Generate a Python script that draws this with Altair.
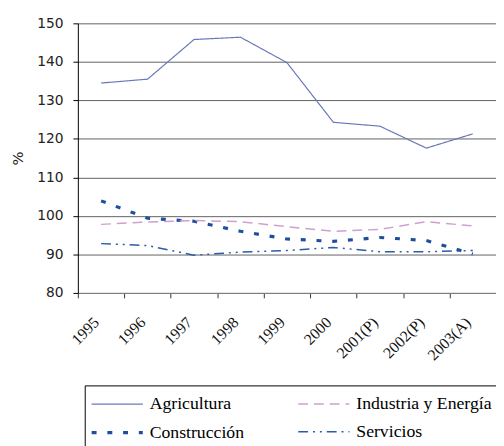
import altair as alt
import pandas as pd

years = ["1995", "1996", "1997", "1998", "1999", "2000", "2001(P)", "2002(P)", "2003(A)"]
series = ["Agricultura", "Construcción", "Industria y Energía", "Servicios"]
agricultura = [134.5, 135.5, 145.8, 146.4, 139.8, 124.3, 123.3, 117.6, 121.3]
construccion = [103.9, 99.4, 98.6, 96.0, 94.0, 93.4, 94.4, 93.6, 90.1]
industria = [97.8, 98.4, 98.8, 98.5, 97.2, 96.0, 96.5, 98.5, 97.4]
servicios = [92.8, 92.3, 89.8, 90.6, 91.0, 91.8, 90.7, 90.7, 91.0]

colors = ["#6a78bb", "#1f4e9e", "#cf9fd0", "#2b5cab"]
dashes = [[1, 0], [5, 11], [10, 6], [10, 5, 2, 5, 2, 5]]
widths = [1.2, 3.2, 1.5, 1.5]

rows = []
for name, vals in zip(series, [agricultura, construccion, industria, servicios]):
    for y, v in zip(years, vals):
        rows.append({"year": y, "serie": name, "value": v})
df = pd.DataFrame(rows)

legend = alt.Legend(
    title=None,
    orient="none",
    legendX=7,
    legendY=368,
    columns=2,
    symbolType="M-1,0H3",
    symbolSize=676,
    labelFont="Liberation Serif",
    labelFontSize=18,
    labelColor="#000",
    labelLimit=400,
    labelOffset=31,
    strokeColor="#000",
    padding=5,
    columnPadding=52,
    rowPadding=5,
)

chart = alt.Chart(df).mark_line().encode(
    x=alt.X("year:N", sort=years, title=None,
            axis=alt.Axis(labelAngle=-45, labelAlign="right", labelBaseline="middle",
                          labelPadding=22, labelOffset=-5, tickSize=5, tickBand="extent",
                          domainColor="#808080", tickColor="#333",
                          labelFont="Liberation Serif", labelFontSize=16, labelColor="#111",
                          grid=False)),
    y=alt.Y("value:Q", title="%", scale=alt.Scale(domain=[80, 150]),
            axis=alt.Axis(values=[80, 90, 100, 110, 120, 130, 140, 150],
                          tickSize=5, labelPadding=10, titlePadding=12,
                          domainColor="#000", tickColor="#000",
                          gridColor="#606060", labelFont="DejaVu Sans", labelFontSize=14,
                          labelColor="#222", titleFont="DejaVu Sans", titleFontSize=15,
                          titleFontWeight="normal", titleColor="#222")),
    color=alt.Color("serie:N", scale=alt.Scale(domain=series, range=colors), legend=legend),
    strokeDash=alt.StrokeDash("serie:N", scale=alt.Scale(domain=series, range=dashes), legend=legend),
    strokeWidth=alt.StrokeWidth("serie:N", scale=alt.Scale(type="ordinal", domain=series, range=widths), legend=legend),
    order=alt.Order("year:N"),
).properties(
    width=425, height=274,
    autosize=alt.AutoSizeParams(type="none"),
    padding={"left": 71, "top": 12, "right": 0, "bottom": 152},
).configure_view(stroke=None).configure_axis(domainWidth=1)

chart.save("out.html", embed_options={"renderer": "svg", "actions": False})
